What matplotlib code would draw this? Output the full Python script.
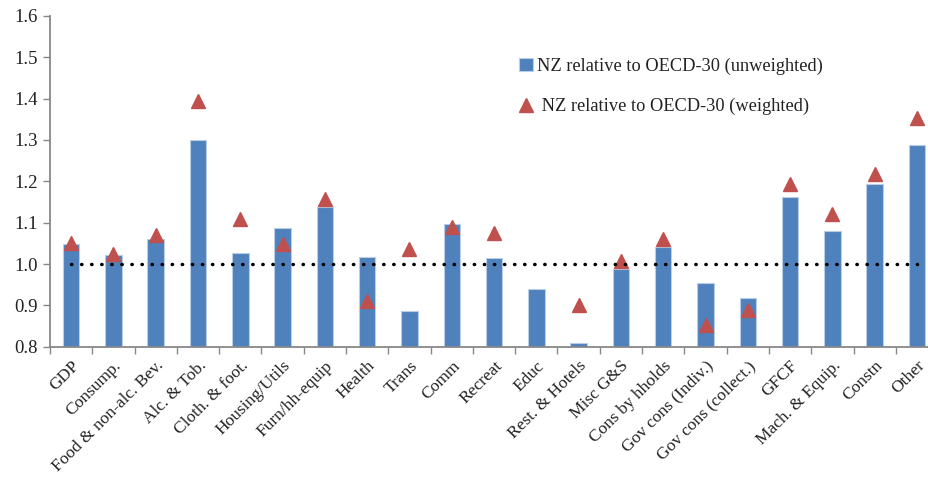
import matplotlib
matplotlib.use("Agg")
import matplotlib.pyplot as plt
import numpy as np

categories = ["GDP", "Consump.", "Food & non-alc. Bev.", "Alc. & Tob.", "Cloth. & foot.",
              "Housing/Utils", "Furn/hh-equip", "Health", "Trans", "Comm", "Recreat",
              "Educ", "Rest. & Hotels", "Misc G&S", "Cons by hholds", "Gov cons (Indiv.)",
              "Gov cons (collect.)", "GFCF", "Mach. & Equip.", "Constn", "Other"]
unweighted = [1.048, 1.022, 1.060, 1.300, 1.027, 1.088, 1.137, 1.016, 0.886, 1.097, 1.014,
              0.940, 0.808, 0.988, 1.040, 0.954, 0.917, 1.162, 1.080, 1.194, 1.288]
weighted = [1.051, 1.025, 1.071, 1.394, 1.108, 1.049, 1.157, 0.911, 1.036, 1.090, 1.075,
            np.nan, 0.901, 1.007, 1.060, 0.853, 0.890, 1.193, 1.122, 1.217, 1.353]
y_ticks = [0.8, 0.9, 1.0, 1.1, 1.2, 1.3, 1.4, 1.5, 1.6]

plt.rcParams["font.family"] = ["Liberation Serif", "DejaVu Serif"]

fig = plt.figure(figsize=(9.29, 4.79), dpi=100)
ax = fig.add_axes([0.0538, 0.276, 0.956, 0.691])

x = np.arange(len(categories))
bars = ax.bar(x, np.array(unweighted) - 0.8, bottom=0.8, width=0.39, color="#4F81BD",
              edgecolor="#B9CDE5", linewidth=0.8, zorder=2,
              label="NZ relative to OECD-30 (unweighted)")
tri, = ax.plot(x, weighted, linestyle="none", marker="^", markersize=10,
               color="#C0504D", markeredgecolor="#C0504D", zorder=3,
               label=" NZ relative to OECD-30 (weighted)")
ax.plot([x[0], x[-1]], [1.0, 1.0], color="black", linestyle=(0, (0.1, 2.8)),
        linewidth=2.5, dash_capstyle="round", zorder=4)

ax.set_xlim(-0.5, len(categories) - 0.5)
ax.set_ylim(0.8, 1.6)
ax.set_yticks(y_ticks)
ax.set_yticklabels([f"{v:.1f}" for v in y_ticks], fontsize=13.5, color="#222222")
ax.set_xticks(x)
ax.set_xticklabels(categories, rotation=45, ha="right", rotation_mode="anchor",
                   fontsize=12.5, color="#222222")
ax.tick_params(axis="x", length=0, pad=8)
ax.set_xticks(np.arange(len(categories) + 1) - 0.5, minor=True)
ax.tick_params(axis="x", which="minor", length=5, color="#888888", width=1)
ax.tick_params(axis="y", length=5, color="#888888", width=1, pad=4)

for s in ["top", "right"]:
    ax.spines[s].set_visible(False)
for s in ["left", "bottom"]:
    ax.spines[s].set_color("#888888")
    ax.spines[s].set_linewidth(1.3)

leg = ax.legend(handles=[bars, tri], loc="upper left", bbox_to_anchor=(0.551, 0.895),
                bbox_transform=fig.transFigure, frameon=False, fontsize=13.2,
                handlelength=0.75, handleheight=0.75, handletextpad=0.2,
                labelspacing=1.25, borderaxespad=0)
for t in leg.get_texts():
    t.set_color("#222222")

fig.savefig("out.png", dpi=100)
